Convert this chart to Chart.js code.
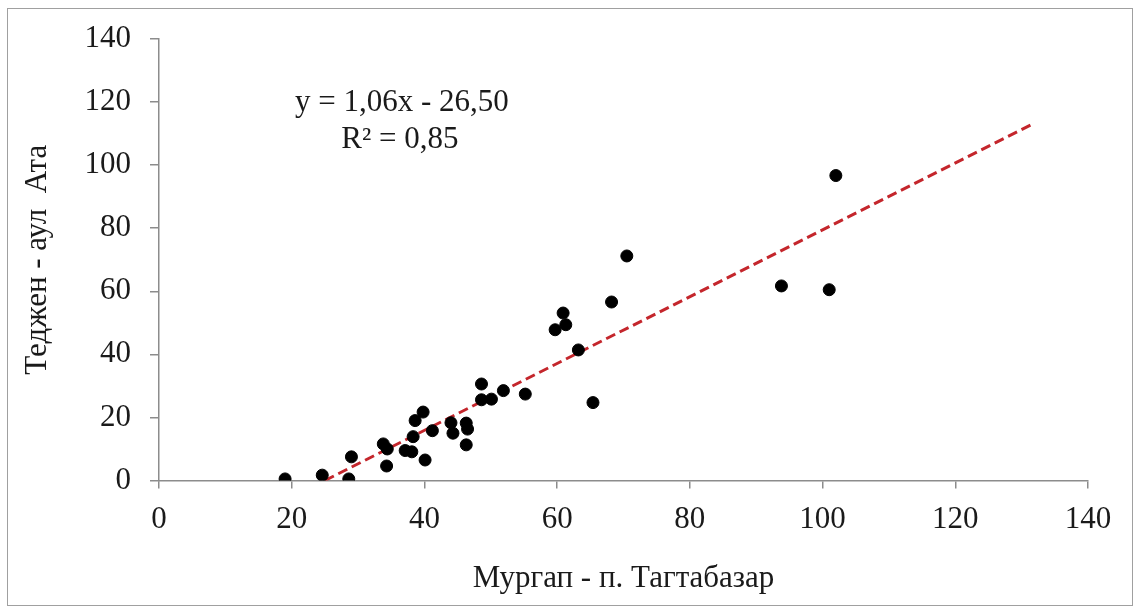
<!DOCTYPE html>
<html>
<head>
<meta charset="utf-8">
<title>Мургап - Теджен</title>
<script src="https://cdn.jsdelivr.net/npm/chart.js@4.4.1/dist/chart.umd.min.js"></script>
<style>
    html, body { margin: 0; padding: 0; background: #fff; }
    #wrap { position: relative; width: 1141px; height: 610px; }
    #frame {
        position: absolute; left: 7px; top: 8px; width: 1124px; height: 596px;
        border: 1px solid #a0a0a0; pointer-events: none;
    }
</style>
</head>
<body>
<div id="wrap">
    <canvas id="scatterChart" width="1141" height="610"></canvas>
    <div id="frame"></div>
</div>
<script>
// Мургап - п. Тагтабазар (x) vs Теджен - аул Ата (y)
const murgabValues = [
    19.0, 24.6, 28.6, 29.0, 34.3, 33.8, 34.4, 37.1, 38.1, 38.3,
    38.6, 39.8, 40.1, 41.2, 44.0, 44.3, 46.3, 46.5, 46.3, 48.6,
    48.6, 50.1, 51.9, 55.2, 59.7, 60.9, 61.3, 63.2, 65.4, 68.2,
    70.5, 93.8, 101.0, 102.0
];
const tejenValues = [
    0.5, 1.7, 0.5, 7.5, 4.6, 11.6, 10.0, 9.5, 9.1, 13.9,
    19.0, 21.7, 6.5, 15.8, 18.3, 15.0, 18.2, 16.3, 11.3, 30.6,
    25.6, 25.8, 28.5, 27.4, 47.8, 53.1, 49.4, 41.4, 24.7, 56.6,
    71.2, 61.7, 60.5, 96.7
];

// linear trend line shown on the chart
const trendSlope = 1.06;
const trendIntercept = -26.50;
const trendRange = [25, 132];
const equationLines = ['y = 1,06x - 26,50', 'R² = 0,85'];

const axisTicks = [0, 20, 40, 60, 80, 100, 120, 140];
const xTitle = 'Мургап - п. Тагтабазар';
const yTitle = 'Теджен - аул  Ата';

const serif = '"Liberation Serif", "Times New Roman", serif';
const axisGray = '#8c8c8c';
const fontSize = 31;

const points = murgabValues.map((x, i) => ({ x: x, y: tejenValues[i] }));
const trendPoints = trendRange.map(x => ({ x: x, y: trendSlope * x + trendIntercept }));

// draws the regression equation inside the plot, placed by data coordinates
const equationPlugin = {
    id: 'equationText',
    afterDatasetsDraw(chart) {
        const ctx = chart.ctx;
        const xs = chart.scales.x;
        const ys = chart.scales.y;
        ctx.save();
        ctx.font = fontSize + 'px ' + serif;
        ctx.fillStyle = '#1a1a1a';
        ctx.textAlign = 'center';
        ctx.textBaseline = 'middle';
        ctx.fillText(equationLines[0], xs.getPixelForValue(36.6), ys.getPixelForValue(119.8));
        ctx.fillText(equationLines[1], xs.getPixelForValue(36.3), ys.getPixelForValue(108.1));
        ctx.restore();
    }
};

const ctx = document.getElementById('scatterChart');

new Chart(ctx.getContext('2d'), {
    type: 'scatter',
    data: {
        datasets: [
            {
                label: 'Observations',
                data: points,
                backgroundColor: '#000',
                borderColor: '#000',
                pointRadius: 6,
                pointHoverRadius: 6,
                order: 1
            },
            {
                type: 'line',
                label: 'Trend',
                data: trendPoints,
                borderColor: '#c4262c',
                borderWidth: 3,
                borderDash: [10, 5],
                pointRadius: 0,
                fill: false,
                order: 2
            }
        ]
    },
    options: {
        responsive: false,
        animation: false,
        events: [],
        layout: {
            padding: { left: 19, top: 39, right: 53, bottom: 13 }
        },
        plugins: {
            legend: { display: false },
            tooltip: { enabled: false }
        },
        scales: {
            x: {
                type: 'linear',
                min: 0,
                max: 140,
                afterBuildTicks: (scale) => { scale.ticks = axisTicks.map(v => ({ value: v })); },
                afterFit: (scale) => { scale.height = 116.5; },
                border: { display: true, color: axisGray, width: 1.5 },
                grid: { drawOnChartArea: false, drawTicks: true, tickLength: 8, color: axisGray, lineWidth: 1.5 },
                ticks: { color: '#1a1a1a', padding: 13, maxRotation: 0, font: { family: serif, size: fontSize } },
                title: {
                    display: true,
                    text: xTitle,
                    color: '#1a1a1a',
                    padding: { top: 0, bottom: 0 },
                    font: { family: serif, size: fontSize }
                }
            },
            y: {
                type: 'linear',
                min: 0,
                max: 140,
                afterBuildTicks: (scale) => { scale.ticks = axisTicks.map(v => ({ value: v })); },
                afterFit: (scale) => { scale.width = 140; },
                border: { display: true, color: axisGray, width: 1.5 },
                grid: { drawOnChartArea: false, drawTicks: true, tickLength: 9, color: axisGray, lineWidth: 1.5 },
                ticks: { color: '#1a1a1a', padding: 19, font: { family: serif, size: fontSize } },
                title: {
                    display: true,
                    text: yTitle,
                    color: '#1a1a1a',
                    padding: { top: 0, bottom: 0 },
                    font: { family: serif, size: fontSize }
                }
            }
        }
    },
    plugins: [equationPlugin]
});
</script>
</body>
</html>
